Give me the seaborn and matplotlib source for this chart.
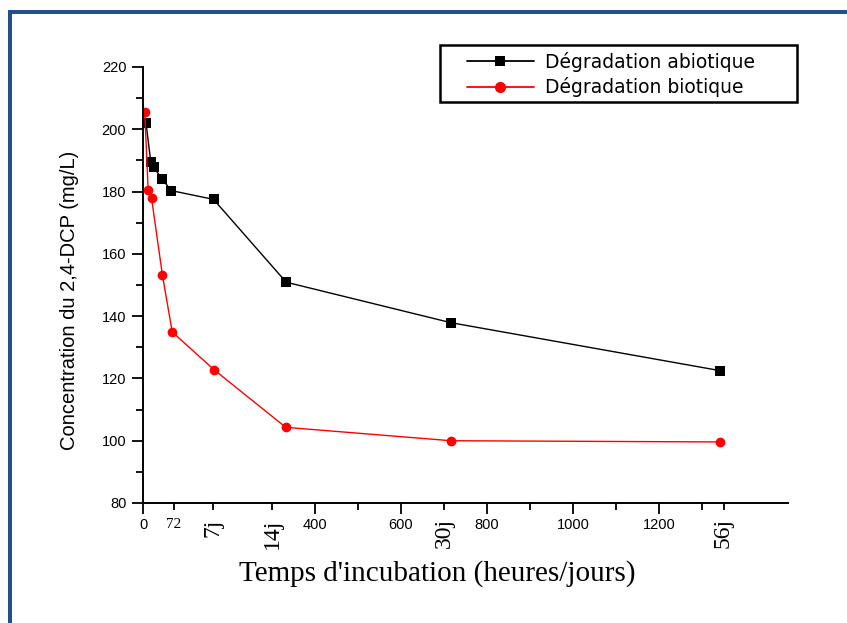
import matplotlib
matplotlib.use("Agg")
import matplotlib.pyplot as plt
import seaborn as sns
import pandas as pd
from matplotlib.lines import Line2D
from matplotlib.patches import Rectangle

# ---- data ----
t_abiotic = [7, 18, 25, 45, 66, 164, 333, 716, 1342]
c_abiotic = [202, 189.6, 187.8, 183.9, 180.3, 177.5, 150.9, 137.9, 122.5]
t_biotic = [4, 12, 20, 45, 68, 166, 332, 716, 1342]
c_biotic = [205.7, 180.5, 177.8, 153.3, 134.9, 122.7, 104.3, 100.0, 99.6]
series_names = ["Dégradation abiotique", "Dégradation biotique"]

major_ticks = [0, 400, 600, 800, 1000, 1200]
major_labels = ["0", "400", "600", "800", "1000", "1200"]
minor_ticks = [72, 162, 300, 500, 700, 900, 1100, 1300, 1350]
minor_labels = ["72", "7j", "14j", "", "30j", "", "", "", "56j"]
y_ticks = [80, 100, 120, 140, 160, 180, 200, 220]

df = pd.concat([
    pd.DataFrame({"t": t_abiotic, "c": c_abiotic, "serie": series_names[0]}),
    pd.DataFrame({"t": t_biotic, "c": c_biotic, "serie": series_names[1]}),
])

sns.set_style("ticks")
plt.rcParams["font.family"] = ["Liberation Sans", "DejaVu Sans"]
for k in ["text.color", "axes.labelcolor", "xtick.color", "ytick.color"]:
    plt.rcParams[k] = "black"

fig = plt.figure(figsize=(8.47, 6.23), dpi=100)
ax = fig.add_axes([143 / 847, 1 - 503 / 623, (788 - 143) / 847, (503 - 67) / 623])

palette = {series_names[0]: "black", series_names[1]: "red"}
sns.lineplot(data=df, x="t", y="c", hue="serie", style="serie",
             markers={series_names[0]: "s", series_names[1]: "o"},
             dashes=False, palette=palette, sort=False, estimator=None,
             markersize=7, markeredgewidth=0, linewidth=1.0, ax=ax, legend=False)

ax.set_xlim(0, 1500)
ax.set_ylim(80, 220)
ax.set_yticks(y_ticks)
ax.set_yticks(list(range(90, 220, 20)), minor=True)
ax.set_yticklabels([str(v) for v in y_ticks], fontsize=10.5)

ax.set_xticks(major_ticks)
ax.set_xticklabels(major_labels, fontsize=10.5)
ax.set_xticks(minor_ticks, minor=True)
ax.set_xticklabels(minor_labels, minor=True)
for lbl in ax.get_xticklabels(minor=True):
    txt = lbl.get_text()
    if txt.endswith("j"):
        lbl.set_rotation(90)
        lbl.set_fontfamily("Liberation Serif")
        lbl.set_fontsize(17)
        lbl.set_va("top")
    else:
        lbl.set_fontfamily("Liberation Serif")
        lbl.set_fontsize(11)

ax.tick_params(axis="both", which="major", length=8, width=1.3, color="black", pad=3)
ax.tick_params(axis="both", which="minor", length=5, width=1.3, color="black", pad=3)
ax.tick_params(axis="x", which="minor", pad=6)
ax.tick_params(axis="y", which="major", pad=4)

for s in ["top", "right"]:
    ax.spines[s].set_visible(False)
for s in ["left", "bottom"]:
    ax.spines[s].set_linewidth(1.4)
    ax.spines[s].set_color("black")

ax.set_xlabel("Temps d'incubation (heures/jours)", family="Liberation Serif",
              fontsize=21)
ax.xaxis.set_label_coords((437 - 143) / (788 - 143), -(560 - 503) / (503 - 67))
ax.set_ylabel("Concentration du 2,4-DCP (mg/L)", fontsize=14.5)
ax.yaxis.set_label_coords(-(143 - 79) / (788 - 143), (503 - 300) / (503 - 67))

# legend: frame drawn separately to match the wide box of the reference
handles = [
    Line2D([0], [0], color="black", marker="s", markersize=7, lw=1.3, markeredgewidth=0),
    Line2D([0], [0], color="red", marker="o", markersize=8, lw=1.3, markeredgewidth=0),
]
fig.add_artist(Rectangle((440 / 847, 1 - 102 / 623), 357 / 847, 57 / 623,
                         transform=fig.transFigure, facecolor="white",
                         edgecolor="black", lw=1.8, zorder=4))
leg = fig.legend(handles, series_names, loc="upper left",
                 bbox_to_anchor=(460 / 847, 1 - 45 / 623), frameon=False,
                 prop={"family": "DejaVu Sans", "size": 13.5},
                 handlelength=3.6, borderpad=0.35, labelspacing=0.3,
                 handletextpad=0.6, borderaxespad=0)
leg.set_zorder(5)

border = "#24508A"
fig.add_artist(Rectangle((7.5 / 847, 0), 4.5 / 847, 1 - 9.5 / 623,
                         transform=fig.transFigure, color=border, lw=0))
fig.add_artist(Rectangle((7.5 / 847, 1 - 13.5 / 623), 1, 4 / 623,
                         transform=fig.transFigure, color=border, lw=0))

fig.savefig("out.png", dpi=100)
